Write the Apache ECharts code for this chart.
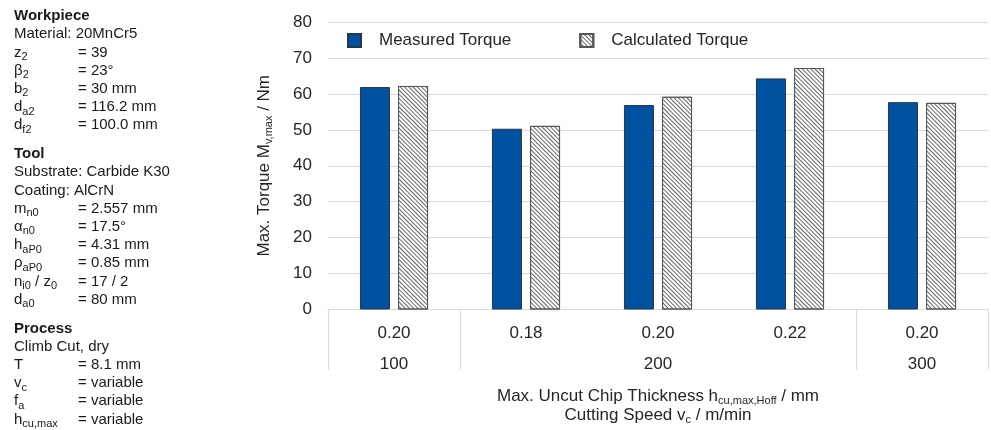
<!DOCTYPE html>
<html>
<head>
<meta charset="utf-8">
<script src="https://cdn.jsdelivr.net/npm/echarts@6/dist/echarts.min.js"></script>
<style>
  html, body { margin: 0; padding: 0; background: #fff; }
  #chart { width: 991px; height: 430px; }
</style>
</head>
<body>
<div id="chart"></div>
<script>
// ---- data ----
const chipThickness = ['0.20', '0.18', '0.20', '0.22', '0.20'];   // h_cu,max,Hoff / mm
const cuttingSpeed = ['100', '200', '200', '200', '300'];          // v_c / m/min (group row)
const measuredTorque = [61.9, 50.3, 56.9, 64.3, 57.7];
const calculatedTorque = [62.2, 51.1, 59.2, 67.2, 57.5];
const seriesNames = ['Measured Torque', 'Calculated Torque'];
const yMin = 0, yMax = 80, yStep = 10;

// ---- parameter panel (symbol_{sub} markup, value) ----
const workpieceLines = [
  ['Material: 20MnCr5', ''],
  ['z_{2}', '= 39'],
  ['β_{2}', '= 23°'],
  ['b_{2}', '= 30 mm'],
  ['d_{a2}', '= 116.2 mm'],
  ['d_{f2}', '= 100.0 mm']
];
const toolLines = [
  ['Substrate: Carbide K30', ''],
  ['Coating: AlCrN', ''],
  ['m_{n0}', '= 2.557 mm'],
  ['α_{n0}', '= 17.5°'],
  ['h_{aP0}', '= 4.31 mm'],
  ['ρ_{aP0}', '= 0.85 mm'],
  ['n_{i0} / z_{0}', '= 17 / 2'],
  ['d_{a0}', '= 80 mm']
];
const processLines = [
  ['Climb Cut, dry', ''],
  ['T', '= 8.1 mm'],
  ['v_{c}', '= variable'],
  ['f_{a}', '= variable'],
  ['h_{cu,max}', '= variable']
];
const panelSections = [
  ['Workpiece', workpieceLines],
  ['Tool', toolLines],
  ['Process', processLines]
];

const FONT = '"Liberation Sans", Arial, sans-serif';
const TEXT = '#1a1a1a';
const AXIS_TEXT = '#262626';

// converts "x_{sub}" markup into ECharts rich-text tokens
function toRich(markup) {
  return markup.replace(/_\{([^}]*)\}/g, '{s|$1}')
               .split(/(\{s\|[^}]*\})/)
               .map(p => p.startsWith('{s|') ? p : (p ? '{n|' + p + '}' : ''))
               .join('');
}

const panelRich = {
  n: { fontSize: 15, fontFamily: FONT, color: TEXT, lineHeight: 17 },
  s: { fontSize: 11, fontFamily: FONT, color: TEXT, lineHeight: 17, padding: [9, 0, 0, 0] }
};

function buildPanel() {
  const els = [];
  const step = 18.2;
  const sectionGap = 10.6;
  let y = 16;
  panelSections.forEach(([title, lines], si) => {
    if (si > 0) y += step + sectionGap;
    els.push({
      type: 'text', x: 14, y: y,
      style: { text: title, fontSize: 15, fontWeight: 'bold', fontFamily: FONT, fill: TEXT, align: 'left', verticalAlign: 'middle' }
    });
    lines.forEach(([label, value]) => {
      y += step;
      els.push({
        type: 'text', x: 14, y: y,
        style: { text: toRich(label), rich: panelRich, fill: TEXT, align: 'left', verticalAlign: 'middle' }
      });
      if (value) {
        els.push({
          type: 'text', x: 78, y: y,
          style: { text: value, fontSize: 15, fontFamily: FONT, fill: TEXT, align: 'left', verticalAlign: 'middle' }
        });
      }
    });
  });
  return els;
}

const subStyle = { fontSize: 11, fontFamily: FONT, color: AXIS_TEXT, lineHeight: 19, padding: [9, 0, 0, 0] };
const nameStyle = { fontSize: 17, fontFamily: FONT, color: AXIS_TEXT, lineHeight: 19 };

const chart = echarts.init(document.getElementById('chart'), null, { renderer: 'canvas' });

chart.setOption({
  animation: false,
  backgroundColor: '#fff',
  textStyle: { fontFamily: FONT },
  graphic: buildPanel(),
  legend: {
    left: 347, top: 32, padding: 0,
    icon: 'rect',
    itemWidth: 13, itemHeight: 13, itemGap: 68,
    textStyle: { fontSize: 17, color: AXIS_TEXT, padding: [0, 0, 0, 13], fontFamily: FONT },
    data: seriesNames
  },
  grid: { left: 328, right: 3, top: 22, bottom: 117, containLabel: false },
  xAxis: [
    {
      type: 'category',
      data: chipThickness,
      position: 'bottom',
      axisLine: { show: true, lineStyle: { color: '#d9d9d9', width: 1 } },
      axisTick: { show: false },
      axisLabel: { fontSize: 17, color: AXIS_TEXT, margin: 15, fontFamily: FONT },
      name: '{n|Max. Uncut Chip Thickness h}{s|cu,max,Hoff}{n| / mm}\n{n|Cutting Speed v}{s|c}{n| / m/min}',
      nameLocation: 'middle',
      nameGap: 77,
      nameTextStyle: { rich: { n: nameStyle, s: subStyle }, align: 'center' }
    },
    {
      type: 'category',
      data: cuttingSpeed,
      position: 'bottom',
      offset: 0,
      axisLine: { show: false },
      // separators at the borders of each cutting-speed group
      axisTick: {
        show: true, length: 60,
        lineStyle: { color: '#d9d9d9', width: 1 },
        interval: (i) => i === 0 || cuttingSpeed[i] !== cuttingSpeed[i - 1]
      },
      axisLabel: {
        fontSize: 17, color: AXIS_TEXT, margin: 46, fontFamily: FONT,
        interval: 0,
        formatter: (v, i) => {
          const idx = cuttingSpeed.map((s, k) => s === v ? k : -1).filter(k => k >= 0);
          const mid = idx[Math.floor(idx.length / 2)];
          return i === mid ? v : '';
        }
      }
    }
  ],
  yAxis: {
    type: 'value',
    min: yMin, max: yMax, interval: yStep,
    axisLine: { show: false },
    axisTick: { show: false },
    splitLine: { lineStyle: { color: '#d9d9d9', width: 1 } },
    axisLabel: { fontSize: 17, color: AXIS_TEXT, margin: 16, fontFamily: FONT },
    name: 'Max. Torque M{s|v,max} / Nm',
    nameLocation: 'middle',
    nameGap: 54,
    nameRotate: 90,
    nameTextStyle: { fontSize: 17, color: AXIS_TEXT, fontFamily: FONT, rich: { s: subStyle } }
  },
  series: [
    {
      name: seriesNames[0],
      type: 'bar',
      xAxisIndex: 0,
      data: measuredTorque,
      barWidth: 30,
      barGap: '27%',
      itemStyle: { color: '#0051a0', borderColor: '#26354f', borderWidth: 1 }
    },
    {
      name: seriesNames[1],
      type: 'bar',
      xAxisIndex: 0,
      data: calculatedTorque,
      barWidth: 30,
      itemStyle: {
        color: '#ffffff', borderColor: '#555555', borderWidth: 1,
        decal: {
          symbol: 'rect', symbolSize: 1,
          dashArrayX: [1, 0], dashArrayY: [1, 1.5],
          rotation: Math.PI / 4,
          color: '#666666'
        }
      }
    }
  ]
});
</script>
</body>
</html>
